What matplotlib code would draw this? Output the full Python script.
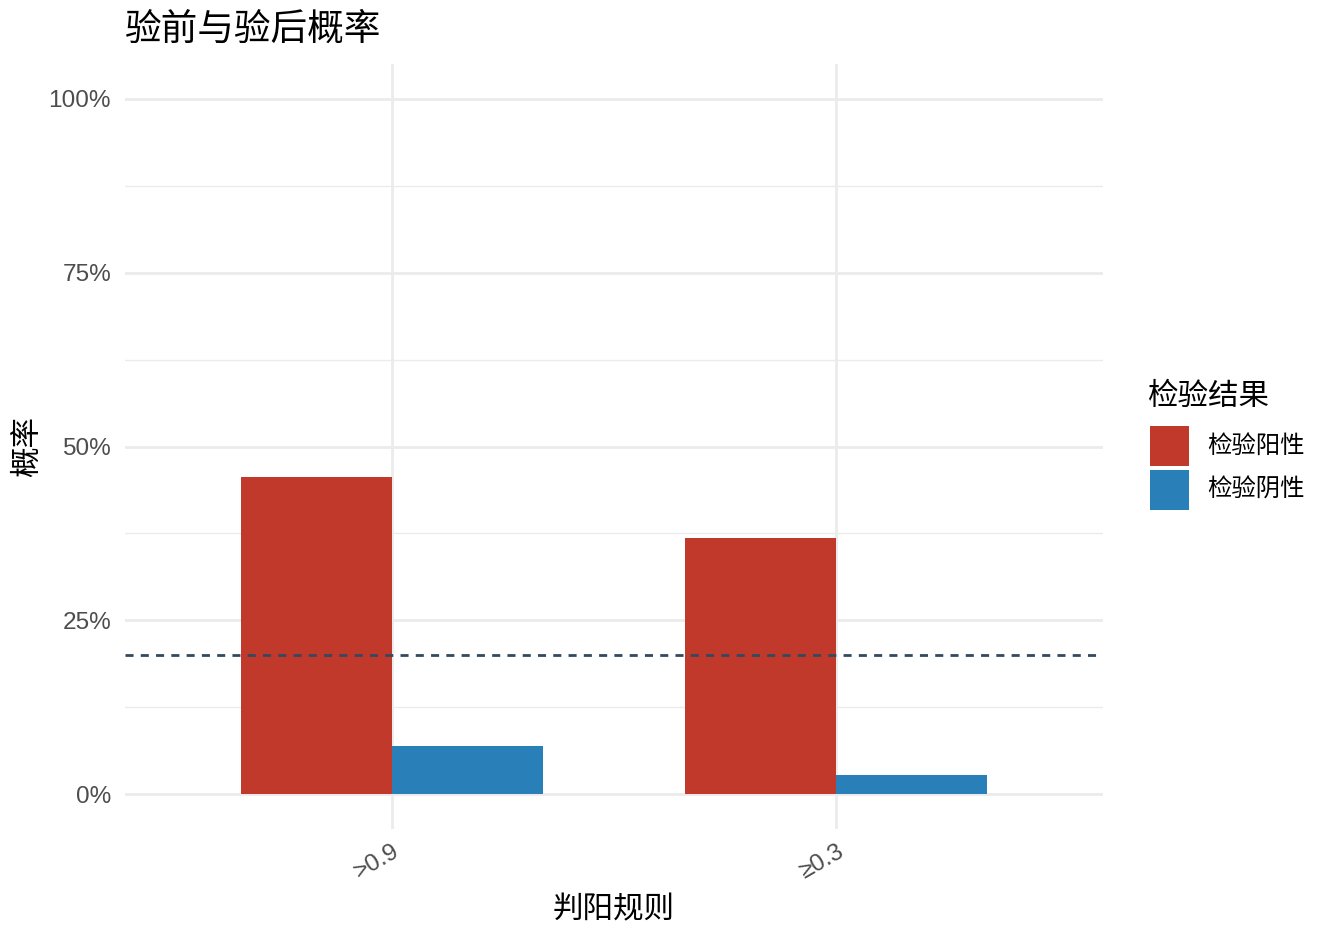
import numpy as np
import matplotlib
matplotlib.use('Agg')
import matplotlib.pyplot as plt
from matplotlib.patches import Rectangle

plt.rcParams['font.family'] = ['Noto Sans CJK SC', 'DejaVu Sans']

# 数据
rules = ['>0.9', '≥0.3']
groups = ['检验阳性', '检验阴性']
pos_prob = [0.456, 0.368]
neg_prob = [0.070, 0.027]
pretest = 0.20
colors = ['#C0392B', '#2980B9']

W, H = 1332, 936
fig = plt.figure(figsize=(W / 100, H / 100), dpi=100)
ax = fig.add_axes([125 / W, 1 - 829 / H, (1103 - 125) / W, (829 - 64) / H])

x = np.arange(1, len(rules) + 1)
w = 0.34
ax.bar(x - w / 2, pos_prob, width=w, color=colors[0], zorder=3)
ax.bar(x + w / 2, neg_prob, width=w, color=colors[1], zorder=3)
ax.axhline(pretest, color='#34495E', lw=2.0, dashes=(2.9, 2.6), zorder=4)

ax.set_xlim(0.4, 2.6)
ax.set_ylim(-0.05, 1.05)
ax.set_xticks(x)
ax.set_xticklabels(rules, rotation=30, ha='right', rotation_mode='anchor',
                   fontsize=17.6, color='#4D4D4D', family=['Liberation Sans', 'DejaVu Sans'])
yt = [0, 0.25, 0.5, 0.75, 1.0]
ax.set_yticks(yt)
ax.set_yticklabels(['0%', '25%', '50%', '75%', '100%'], fontsize=17.6, color='#4D4D4D',
                   family=['Liberation Sans', 'DejaVu Sans'])
ax.set_yticks([0.125, 0.375, 0.625, 0.875], minor=True)
ax.tick_params(axis='both', which='both', length=0)
ax.tick_params(axis='y', pad=10)
ax.tick_params(axis='x', pad=8)

ax.grid(True, which='major', color='#EBEBEB', lw=2.0, zorder=0)
ax.grid(True, which='minor', axis='y', color='#EBEBEB', lw=1.0, zorder=0)
for s in ax.spines.values():
    s.set_visible(False)

ax.set_xlabel('判阳规则', fontsize=22, labelpad=8)
ax.set_ylabel('概率', fontsize=22, labelpad=4)
fig.text(125 / W, 1 - 29 / H, '验前与验后概率', fontsize=26.4, va='center', ha='left')

# 图例
fig.text(1148 / W, 1 - 396 / H, '检验结果', fontsize=22, va='center', ha='left')
key_top = [426, 470]
for c, g, t in zip(colors, groups, key_top):
    fig.patches.append(Rectangle((1150 / W, 1 - (t + 40) / H), 39 / W, 40 / H,
                                 transform=fig.transFigure, facecolor=c, edgecolor='none'))
    fig.text(1207 / W, 1 - (t + 20) / H, g, fontsize=17.6, va='center', ha='left')

fig.savefig('out.png', dpi=100)
